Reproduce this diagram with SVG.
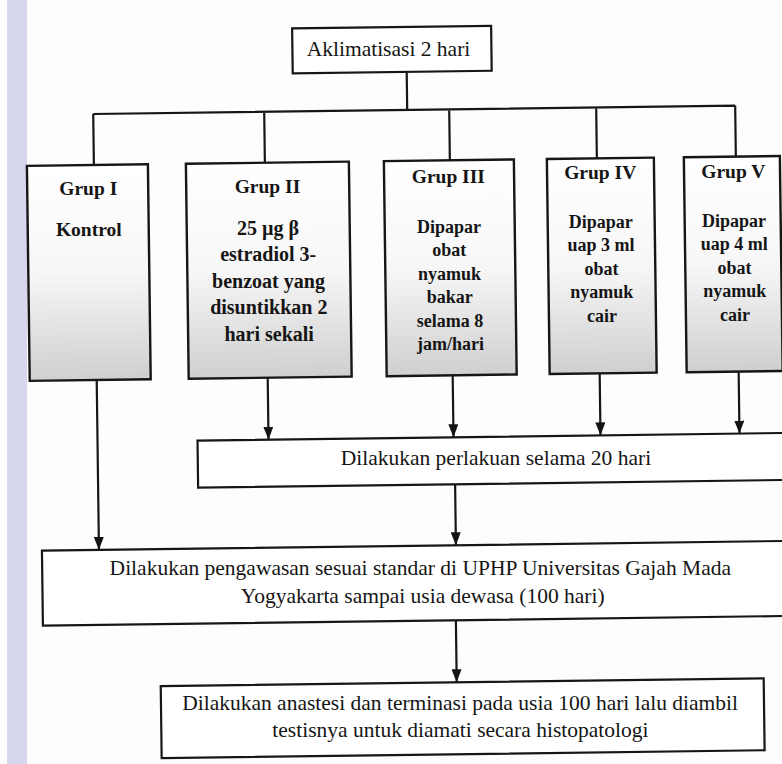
<svg xmlns="http://www.w3.org/2000/svg" width="782" height="764" viewBox="0 0 782 764">
<defs>
<linearGradient id="gfill" x1="0" y1="0" x2="0" y2="1">
<stop offset="0" stop-color="#ffffff"/>
<stop offset="0.5" stop-color="#f7f7f7"/>
<stop offset="1" stop-color="#d0cfcf"/>
</linearGradient>
<marker id="arr" viewBox="0 0 10 13" refX="5" refY="13" markerWidth="10" markerHeight="13" markerUnits="userSpaceOnUse" orient="0">
<path d="M0,0 L10,0 L5,13 z" fill="#141414"/>
</marker>
<style>
.box{fill:#ffffff;stroke:#161616;stroke-width:2.2}
.gbox{fill:url(#gfill);stroke:#161616;stroke-width:2.4}
.t{font-family:"Liberation Serif","Times New Roman",serif;fill:#151515;text-anchor:middle}
.big{font-size:21.5px}
.g{font-weight:bold;font-size:19.5px}
.g1{font-weight:bold;font-size:20px}
.g2{font-weight:bold;font-size:18px}
.conn{stroke:#161616;stroke-width:2.2;fill:none}
.arw{marker-end:url(#arr)}
</style>
</defs>
<rect width="782" height="764" fill="#fdfdfd"/>
<rect x="7" y="0" width="20" height="764" fill="#d6d6ee"/>
<g id="connectors" transform="rotate(-0.75 400 400)">
<path class="conn" d="M411,72 V110 M97,110 H739 M97,110 V161 M268,110 V161 M453,110 V161 M600,110 V161 M739,110 V161"/>
<path class="conn arw" d="M268,376 V438"/>
<path class="conn arw" d="M453,376 V438"/>
<path class="conn arw" d="M600,376 V438"/>
<path class="conn arw" d="M739,376 V438"/>
<path class="conn arw" d="M97,376 V546"/>
<path class="conn arw" d="M454,485 V546"/>
<path class="conn arw" d="M453,621 V683"/>
</g>
<g id="n-aklimatisasi">
<rect class="box" x="297" y="27" width="199" height="45" transform="rotate(-0.75 400 400)"/>
<text class="t big" x="388.5" y="56">Aklimatisasi 2 hari</text>
</g>
<g id="n-grup1">
<rect class="gbox" x="30" y="161" width="121" height="215" transform="rotate(-0.75 400 400)"/>
<text class="t g" x="88.3" y="195">Grup I</text>
<text class="t g" x="88.8" y="236">Kontrol</text>
</g>
<g id="n-grup2">
<rect class="gbox" x="189" y="161" width="163" height="215" transform="rotate(-0.75 400 400)"/>
<text class="t g" x="267.5" y="192.7">Grup II</text>
<text class="t g1" x="268" y="234.7">25 µg β</text>
<text class="t g1" x="268.2" y="260.7">estradiol 3-</text>
<text class="t g1" x="268.5" y="287.7">benzoat yang</text>
<text class="t g1" x="268.8" y="313.7">disuntikkan 2</text>
<text class="t g1" x="269.2" y="340.7">hari sekali</text>
</g>
<g id="n-grup3">
<rect class="gbox" x="387" y="161" width="130" height="215" transform="rotate(-0.75 400 400)"/>
<text class="t g" x="448.3" y="183.3">Grup III</text>
<text class="t g2" x="449" y="233.3">Dipapar</text>
<text class="t g2" x="449.2" y="256.3">obat</text>
<text class="t g2" x="449.5" y="280.3">nyamuk</text>
<text class="t g2" x="449.8" y="303.3">bakar</text>
<text class="t g2" x="450.1" y="327.3">selama 8</text>
<text class="t g2" x="450.4" y="350.3">jam/hari</text>
</g>
<g id="n-grup4">
<rect class="gbox" x="550" y="161" width="107" height="215" transform="rotate(-0.75 400 400)"/>
<text class="t g" x="600.2" y="179.3">Grup IV</text>
<text class="t g2" x="600.8" y="228.3">Dipapar</text>
<text class="t g2" x="601.1" y="251.3">uap 3 ml</text>
<text class="t g2" x="601.4" y="275.3">obat</text>
<text class="t g2" x="601.7" y="298.3">nyamuk</text>
<text class="t g2" x="602" y="322.3">cair</text>
</g>
<g id="n-grup5">
<rect class="gbox" x="687" y="161" width="96" height="215" transform="rotate(-0.75 400 400)"/>
<text class="t g" x="733.3" y="177.6">Grup V</text>
<text class="t g2" x="733.9" y="226.6">Dipapar</text>
<text class="t g2" x="734.2" y="249.6">uap 4 ml</text>
<text class="t g2" x="734.5" y="273.6">obat</text>
<text class="t g2" x="734.8" y="296.6">nyamuk</text>
<text class="t g2" x="735.1" y="320.6">cair</text>
</g>
<g id="n-perlakuan">
<rect class="box" x="197" y="438" width="620" height="47" transform="rotate(-0.75 400 400)"/>
<text class="t big" x="495.9" y="464.8">Dilakukan perlakuan selama 20 hari</text>
</g>
<g id="n-pengawasan">
<rect class="box" x="40" y="546" width="780" height="75" transform="rotate(-0.75 400 400)"/>
<text class="t big" x="420.3" y="574.8">Dilakukan pengawasan sesuai standar di UPHP Universitas Gajah Mada</text>
<text class="t big" x="422.7" y="602.7">Yogyakarta sampai usia dewasa (100 hari)</text>
</g>
<g id="n-terminasi">
<rect class="box" x="157" y="683" width="603" height="72" transform="rotate(-0.75 400 400)"/>
<text class="t big" x="460.1" y="710.3">Dilakukan anastesi dan terminasi pada usia 100 hari lalu diambil</text>
<text class="t big" x="460.4" y="737.3">testisnya untuk diamati secara histopatologi</text>
</g>
</svg>
